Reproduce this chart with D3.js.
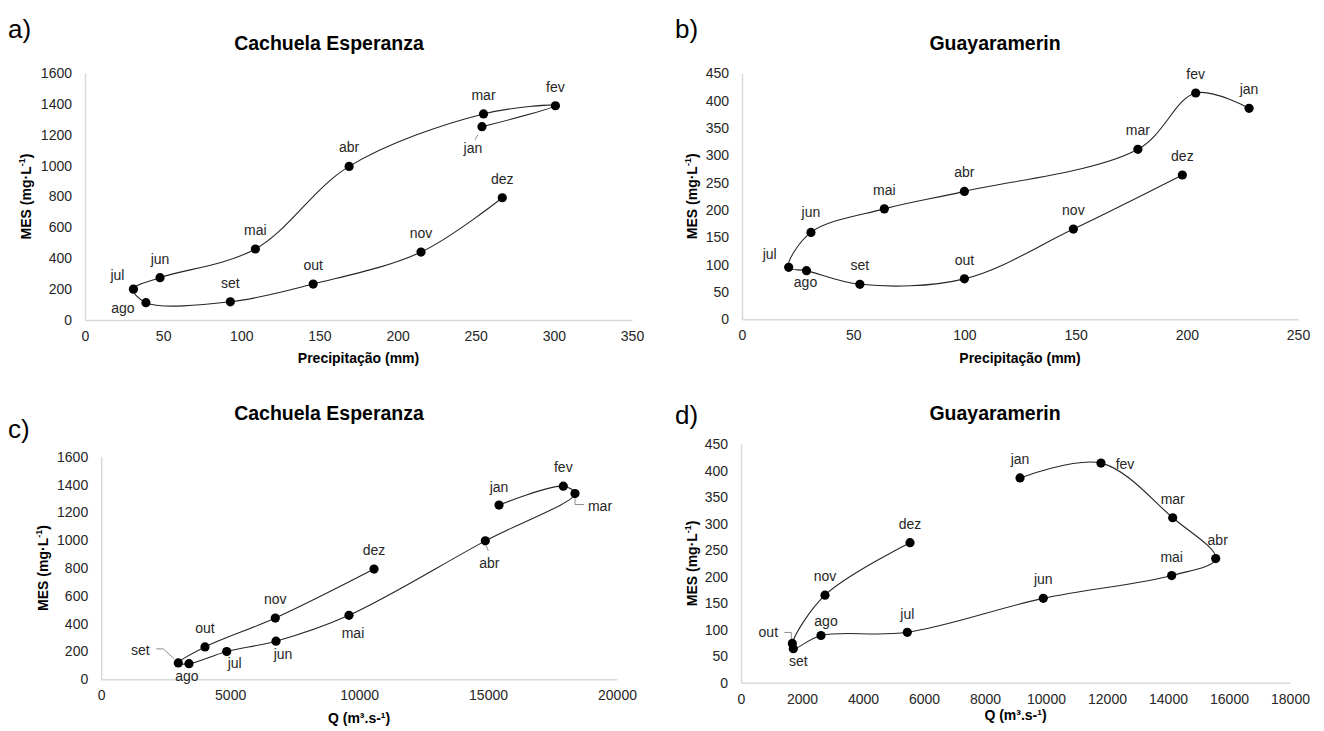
<!DOCTYPE html>
<html lang="pt">
	<head>
		<meta charset="utf-8">
		<title>MES x Precipitação / Vazão</title>
		<script type="text/javascript" src="https://cdn.jsdelivr.net/npm/d3@7/dist/d3.min.js"></script>
		<style type="text/css">
			body { margin:0px; background:#fff; }
			text { font-family: "Liberation Sans", Arial, sans-serif; fill:#262626; }
		</style>
	</head>
	<body>
	<div id="chart"></div>
	<script type="text/javascript">
		//Data (order of the hysteresis loop: jan -> dez)
		var months = ["jan","fev","mar","abr","mai","jun","jul","ago","set","out","nov","dez"];

		var mesCachuela  = [1252, 1388, 1335, 995, 460, 274, 200, 112, 118, 233, 440, 792];
		var precCachuela = [254, 301, 255, 169, 109, 48, 31, 39, 93, 146, 215, 267];
		var qCachuela    = [15425, 17918, 18372, 14894, 9608, 6778, 4866, 3404, 2990, 4025, 6751, 10578];

		var mesGuaya  = [386, 414, 311, 234, 202, 159, 95, 89, 64, 74, 165, 264];
		var precGuaya = [228, 204, 178, 100, 64, 31, 21, 29, 53, 100, 149, 198];
		var qGuaya    = [9148, 11803, 14154, 15564, 14121, 9912, 5453, 2623, 1715, 1682, 2754, 5541];

		//Tick labels
		var ticksMesCachuela = [0, 200, 400, 600, 800, 1000, 1200, 1400, 1600];
		var ticksMesGuaya    = [0, 50, 100, 150, 200, 250, 300, 350, 400, 450];
		var ticksPrecA = [0, 50, 100, 150, 200, 250, 300, 350];
		var ticksPrecB = [0, 50, 100, 150, 200, 250];
		var ticksQC = [0, 5000, 10000, 15000, 20000];
		var ticksQD = [0, 2000, 4000, 6000, 8000, 10000, 12000, 14000, 16000, 18000];

		//Label placement (offset from dot, px) and leader lines
		var up = [0, -19];
		var labelsA = {jan:[-9,21], fev:up, mar:up, abr:up, mai:up, jun:up, jul:[-16,-14], ago:[-23,5], set:up, out:up, nov:up, dez:up};
		var leadersA = {jan:[[-4,8],[-7,13]]};
		var labelsB = {jan:up, fev:up, mar:up, abr:up, mai:up, jun:[0,-20], jul:[-19,-13], ago:[-1,11], set:up, out:up, nov:up, dez:up};
		var leadersB = {};
		var labelsC = {jan:[0,-18], fev:up, mar:[25,12], abr:[4,22], mai:[4,18], jun:[7,13], jul:[8,12], ago:[-2,12], set:[-38,-13], out:up, nov:up, dez:up};
		var leadersC = {set:[[-4,-4],[-15,-14],[-22,-14]], mar:[[0,5],[0,11],[9,11]], abr:[[1,5],[3,10]]};
		var labelsD = {jan:up, fev:[24,1], mar:up, abr:[2,-19], mai:up, jun:up, jul:[0,-18], ago:[5,-14], set:[5,12], out:[-24,-11], nov:up, dez:up};
		var leadersD = {out:[[-1,-4],[-1,-11],[-8,-11]]};

		var w = 1324, h = 731;
		var svg = d3.select("#chart").append("svg")
			.attr("width", w)
			.attr("height", h);

		var panels = [
			{letter:"a)", lx:8, ly:38, title:"Cachuela Esperanza", tx:329, x0:85, x1:632, yT:73, yB:320,
			 xs:precCachuela, ys:mesCachuela, xt:ticksPrecA, yt:ticksMesCachuela, xmax:350, ymax:1600,
			 xlabel:"Precipitação (mm)", xly:363, yly:26, tY:50, labels:labelsA, leaders:leadersA},
			{letter:"b)", lx:675, ly:38, title:"Guayaramerin", tx:995, x0:742, x1:1298, yT:73.3, yB:319.3,
			 xs:precGuaya, ys:mesGuaya, xt:ticksPrecB, yt:ticksMesGuaya, xmax:250, ymax:450,
			 xlabel:"Precipitação (mm)", xly:363, yly:692, tY:50, labels:labelsB, leaders:leadersB},
			{letter:"c)", lx:8, ly:438, title:"Cachuela Esperanza", tx:329, x0:101.2, x1:617, yT:456.7, yB:679.3,
			 xs:qCachuela, ys:mesCachuela, xt:ticksQC, yt:ticksMesCachuela, xmax:20000, ymax:1600,
			 xlabel:"Q (m³.s-¹)", xly:723, yly:43, tY:420, labels:labelsC, leaders:leadersC},
			{letter:"d)", lx:675, ly:424, title:"Guayaramerin", tx:995, x0:741, x1:1290, yT:444, yB:682.7,
			 xs:qGuaya, ys:mesGuaya, xt:ticksQD, yt:ticksMesGuaya, xmax:18000, ymax:450,
			 xlabel:"Q (m³.s-¹)", xly:720, yly:692, tY:420, labels:labelsD, leaders:leadersD}
		];

		panels.forEach(function(p) {
			var g = svg.append("g");

			var x = d3.scaleLinear().domain([0, p.xmax]).range([p.x0, p.x1]);
			var y = d3.scaleLinear().domain([0, p.ymax]).range([p.yB, p.yT]);

			//Panel letter and title
			g.append("text")
				.attr("x", p.lx).attr("y", p.ly)
				.attr("font-size", "26px")
				.style("fill", "#000")
				.text(p.letter);

			g.append("text")
				.attr("x", p.tx).attr("y", p.tY)
				.attr("text-anchor", "middle")
				.attr("font-size", "19.5px")
				.attr("font-weight", "bold")
				.style("fill", "#000")
				.text(p.title);

			//Axes (left and bottom lines only, no tick marks)
			var xAxis = g.append("g")
				.attr("transform", "translate(0," + p.yB + ")")
				.call(d3.axisBottom(x).tickValues(p.xt).tickSize(0).tickPadding(11).tickFormat(d3.format("d")));
			var yAxis = g.append("g")
				.attr("transform", "translate(" + p.x0 + ",0)")
				.call(d3.axisLeft(y).tickValues(p.yt).tickSize(0).tickPadding(13).tickFormat(d3.format("d")));

			[xAxis, yAxis].forEach(function(a) {
				a.select(".domain").attr("stroke", "#d9d9d9").attr("stroke-width", 1.5);
				a.selectAll("text")
					.attr("font-size", "14px")
					.attr("font-family", "'Liberation Sans', Arial, sans-serif")
					.style("fill", "#262626");
			});

			//Axis titles
			g.append("text")
				.attr("x", (p.x0 + p.x1) / 2).attr("y", p.xly)
				.attr("text-anchor", "middle")
				.attr("font-size", "14px")
				.attr("font-weight", "bold")
				.style("fill", "#000")
				.text(p.xlabel);

			var yl = g.append("text")
				.attr("transform", "translate(" + (p.yly + 5) + "," + ((p.yT + p.yB) / 2) + ") rotate(-90)")
				.attr("text-anchor", "middle")
				.attr("font-size", "14px")
				.attr("font-weight", "bold")
				.style("fill", "#000");
			yl.append("tspan").text("MES (mg·L");
			yl.append("tspan").attr("font-size", "9px").attr("dy", -6).text("-1");
			yl.append("tspan").attr("dy", 6).text(")");

			//Smoothed loop line
			var pts = months.map(function(m, i) { return [x(p.xs[i]), y(p.ys[i])]; });
			var line = d3.line().curve(d3.curveCatmullRom.alpha(0.5));
			g.append("path")
				.attr("d", line(pts))
				.attr("fill", "none")
				.attr("stroke", "#262626")
				.attr("stroke-width", 1.1);

			//Leader lines
			months.forEach(function(m, i) {
				var l = p.leaders[m];
				if (l) {
					var lp = l.map(function(o) { return [pts[i][0] + o[0], pts[i][1] + o[1]]; });
					g.append("path")
						.attr("d", d3.line()(lp))
						.attr("fill", "none")
						.attr("stroke", "#8c8c8c")
						.attr("stroke-width", 1);
				}
			});

			//Dots
			g.selectAll("circle")
				.data(months)
				.enter()
				.append("circle")
				.attr("cx", function(d, i) { return x(p.xs[i]); })
				.attr("cy", function(d, i) { return y(p.ys[i]); })
				.attr("r", 4.6)
				.attr("fill", "#000");

			//Month labels
			g.selectAll("text.month")
				.data(months)
				.enter()
				.append("text")
				.attr("class", "month")
				.attr("x", function(d, i) { return x(p.xs[i]) + p.labels[d][0]; })
				.attr("y", function(d, i) { return y(p.ys[i]) + p.labels[d][1]; })
				.attr("text-anchor", "middle")
				.attr("dominant-baseline", "central")
				.attr("font-size", "14px")
				.text(function(d) { return d; });
		});
	</script>
	</body>
</html>
